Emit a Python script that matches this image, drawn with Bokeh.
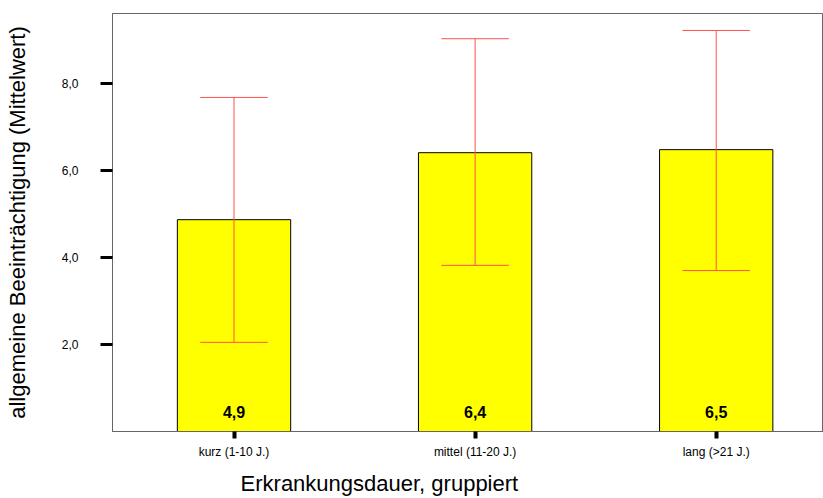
from bokeh.plotting import figure
from bokeh.models import FixedTicker, Range1d, LinearAxis, ColumnDataSource
from bokeh.core.properties import value
from bokeh.embed import file_html
from bokeh.resources import INLINE

categories = ["kurz (1-10 J.)", "mittel (11-20 J.)", "lang (>21 J.)"]
means = [4.87, 6.41, 6.48]
err_upper = [7.68, 9.03, 9.22]
err_lower = [2.05, 3.82, 3.70]
bar_labels = ["4,9", "6,4", "6,5"]
y_ticks = [2, 4, 6, 8]
y_tick_labels = ["2,0", "4,0", "6,0", "8,0"]
x_title = "Erkrankungsdauer, gruppiert"
y_title = "allgemeine Beeinträchtigung (Mittelwert)"

xs = [1, 2, 3]
cap = 0.14
src = ColumnDataSource(dict(
    x=xs, top=means, up=err_upper, lo=err_lower, lab=bar_labels,
    x0=[x - cap for x in xs], x1=[x + cap for x in xs],
))

p = figure(width=823, height=498, output_backend="svg", toolbar_location=None,
           x_range=Range1d(0.496, 3.445), y_range=Range1d(0, 9.61),
           min_border_left=112, min_border_top=13, min_border_bottom=67, min_border_right=0)

p.vbar(x="x", top="top", bottom=0, width=0.47, source=src,
       fill_color="#ffff00", line_color="black", line_width=1)
p.segment(x0="x", y0="lo", x1="x", y1="up", source=src, line_color="#ff5050", line_width=1)
p.segment(x0="x0", y0="up", x1="x1", y1="up", source=src, line_color="#ff5050", line_width=1)
p.segment(x0="x0", y0="lo", x1="x1", y1="lo", source=src, line_color="#ff5050", line_width=1)
p.text(x="x", y=0, text="lab", source=src, text_align="center", text_baseline="alphabetic",
       y_offset=-20, text_font_size="16px", text_font_style="bold",
       text_font=value("Liberation Sans"), text_color="black")

p.xgrid.visible = False
p.ygrid.visible = False
p.outline_line_color = "#666666"
p.outline_line_width = 1

p.yaxis.ticker = FixedTicker(ticks=y_ticks)
p.yaxis.major_label_overrides = {t: l for t, l in zip(y_ticks, y_tick_labels)}
p.yaxis.minor_tick_line_color = None
p.yaxis.major_tick_out = 12
p.yaxis.major_tick_in = 0
p.yaxis.major_tick_line_width = 3
p.yaxis.major_tick_line_color = "black"
p.yaxis.axis_line_color = "#666666"
p.yaxis.major_label_text_font = "Liberation Sans"
p.yaxis.major_label_text_font_size = "12px"
p.yaxis.major_label_text_color = "black"
p.yaxis.major_label_standoff = 22
p.yaxis.axis_label = y_title
p.yaxis.axis_label_text_font = "Liberation Sans"
p.yaxis.axis_label_text_font_size = "22px"
p.yaxis.axis_label_text_font_style = "normal"
p.yaxis.axis_label_text_color = "black"
p.yaxis.axis_label_standoff = 29

p.xaxis.ticker = FixedTicker(ticks=xs)
p.xaxis.major_label_overrides = {x: c for x, c in zip(xs, categories)}
p.xaxis.minor_tick_line_color = None
p.xaxis.major_tick_out = 7
p.xaxis.major_tick_in = 0
p.xaxis.major_tick_line_width = 4
p.xaxis.major_tick_line_color = "black"
p.xaxis.axis_line_color = "#666666"
p.xaxis.major_label_text_font = "Liberation Sans"
p.xaxis.major_label_text_font_size = "12px"
p.xaxis.major_label_text_color = "black"
p.xaxis.major_label_standoff = 6

# second, tickless axis carrying the x title; trailing no-break spaces move it
# left of the frame centre as in the reference
ax2 = LinearAxis(ticker=FixedTicker(ticks=[]),
                 axis_label=x_title + "\u00a0" * 29,
                 axis_label_text_font="Liberation Sans", axis_label_text_font_size="22px",
                 axis_label_text_font_style="normal", axis_label_text_color="black",
                 axis_label_standoff=9, axis_line_color=None,
                 major_tick_line_color=None, minor_tick_line_color=None,
                 major_tick_out=0, minor_tick_out=0, major_label_text_font_size="0px")
p.add_layout(ax2, "below")

open("out.html", "w").write(file_html(p, INLINE))
